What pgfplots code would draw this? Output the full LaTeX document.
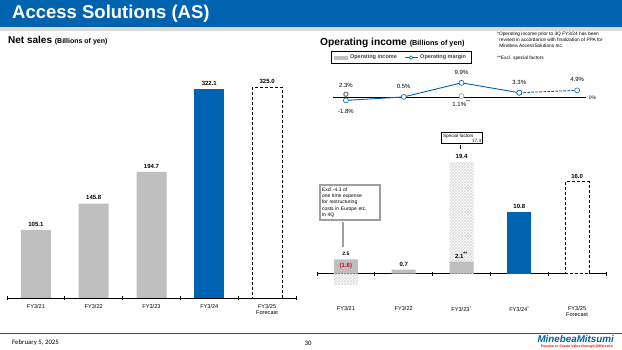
\documentclass[border=0pt]{standalone}
\usepackage{pgfplots}
\pgfplotsset{compat=1.18}
\usepackage{fontspec}
\setmainfont{Liberation Sans}
\newfontfamily\calibri{Carlito}
\usetikzlibrary{patterns}
\definecolor{msblue}{RGB}{0,98,172}
\definecolor{barblue}{RGB}{0,99,177}
\definecolor{bargray}{RGB}{191,191,191}
\definecolor{hdr}{RGB}{0,99,176}
\definecolor{strip}{RGB}{217,217,217}
\definecolor{negred}{RGB}{230,0,40}
\newcommand{\fs}[1]{\fontsize{#1}{#1}\selectfont}
\begin{document}
\begin{tikzpicture}
\path[use as bounding box] (0pt,0pt) rectangle (622pt,350pt);
\fill[white] (0pt,0pt) rectangle (622pt,350pt);
\fill[hdr] (0pt,323pt) rectangle (622pt,350pt);
\fill[strip] (0pt,319pt) rectangle (622pt,323pt);
\node[anchor=west, text=white, font=\fs{18.5}\bfseries, inner sep=0pt] at (12pt,336.5pt) {Access Solutions (AS)};
\node[anchor=base west, inner sep=0pt] at (8pt,306.5pt) {\fs{10}\bfseries Net sales \fs{7}(Billions of yen)};
\node[anchor=base west, inner sep=0pt] at (320pt,304.5pt) {\fs{10.2}\bfseries Operating income \fs{7.3}(Billions of yen)};
\node[anchor=north west, align=left, inner sep=0pt, font=\fontsize{4.8}{6}\selectfont] at (497pt,318pt) {*Operating income prior to 3Q FY3/24 has been\\\ \,revised in accordance with finalization of PPA for\\\ \,Minebea AccessSolutions Inc.};
\node[anchor=west, inner sep=0pt, font=\fs{4.8}] at (497pt,292pt) {**Excl. special factors};
% footer
\draw[msblue, line width=1pt] (0pt,16pt) -- (622pt,16pt);
\node[anchor=west, inner sep=0pt, font=\calibri\fs{6.8}] at (12pt,7pt) {February 5, 2025};
\node[inner sep=0pt, font=\calibri\fs{6.8}] at (308pt,7pt) {30};
\node[anchor=east, inner sep=0pt, text=msblue, font=\fs{9.8}\bfseries\itshape] at (614pt,10.5pt) {MinebeaMitsumi};
\node[anchor=east, inner sep=0pt, text=red, font=\fs{3.5}\bfseries] at (613pt,3pt) {Passion to Create Value through Difference};

% ---------------- Net sales
\begin{axis}[at={(7pt,52pt)}, anchor=south west,
  x=57.8pt, y=0.648pt, xmin=-0.5, xmax=4.5, ymin=0, ymax=340,
  axis x line*=bottom, axis y line=none,
  axis line style={black, line width=0.8pt},
  ybar, bar width=30pt, clip=false,
  xtick={0,...,4},
  xticklabels={FY3/21,FY3/22,FY3/23,FY3/24,{FY3/25\\Forecast}},
  xticklabel style={font=\fontsize{5.6}{6}\selectfont, align=center, text=black, yshift=-2.5pt},
  major tick length=0pt,
  extra x ticks={-0.5,0.5,1.5,2.5,3.5,4.5},
  extra x tick labels={},
  extra x tick style={major tick length=4pt, tick align=center, tick style={black, line width=0.8pt}},
  point meta=explicit symbolic,
  nodes near coords,
  nodes near coords style={font=\fs{6}\bfseries, text=black},
]
\addplot[fill=bargray, draw=none, bar shift=0pt] coordinates {(0,105.1)[105.1] (1,145.8)[145.8] (2,194.7)[194.7]};
\addplot[fill=barblue, draw=none, bar shift=0pt] coordinates {(3,322.1)[322.1]};
\addplot[fill=white, draw=black, dash pattern=on 3pt off 2pt, line width=0.8pt, bar shift=0pt] coordinates {(4,325.0)[325.0]};
\end{axis}

% ---------------- Operating income bars
\begin{axis}[at={(317pt,59.1pt)}, anchor=south west,
  x=57.8pt, y=5.74pt, xmin=-0.5, xmax=4.5, ymin=-3, ymax=22,
  axis x line=middle, axis y line=none,
  axis line style={-, black, line width=0.8pt},
  hide obscured x ticks=false,
  ybar, bar width=24pt, clip=false,
  xtick={0,...,4},
  xticklabels={FY3/21,FY3/22,FY3/23\textsuperscript{*},FY3/24\textsuperscript{*},{FY3/25\\Forecast}},
  xticklabel style={font=\fontsize{5.6}{6}\selectfont, align=center, text=black, yshift=-29.5pt},
  major tick length=0pt,
  extra x ticks={-0.5,0.5,1.5,2.5,3.5,4.5},
  extra x tick labels={},
  extra x tick style={major tick length=4pt, tick align=center, tick style={black, line width=0.8pt}},
  point meta=explicit symbolic,
  nodes near coords,
  nodes near coords style={font=\fs{6}\bfseries, text=black},
]
\addplot[pattern=crosshatch, pattern color=gray!28, draw=none, bar shift=0pt,
  nodes near coords style={text=negred, yshift=12pt}] coordinates {(0,-1.8)[(1.8)]};
\addplot[pattern=crosshatch, pattern color=gray!28, draw=none, bar shift=0pt] coordinates {(2,19.4)[19.4]};
\addplot[fill=bargray, draw=none, bar shift=0pt] coordinates {(0,2.5)[{\fs{5}2.5}] (1,0.7)[0.7] (2,2.1)[{2.1\textsuperscript{**}}]};
\addplot[fill=barblue, draw=none, bar shift=0pt] coordinates {(3,10.8)[10.8]};
\addplot[fill=white, draw=black, dash pattern=on 3pt off 2pt, line width=0.8pt, bar shift=0pt] coordinates {(4,16.0)[16.0]};
\node[draw=black, line width=0.7pt, fill=white, inner xsep=1.5pt, inner ysep=1.2pt, font=\fontsize{4.6}{5.3}\selectfont, align=left, text width=38pt] at (axis cs:2.01,23.6) {Special factors\\\hfill 17.3};
\draw[black, line width=0.7pt] (axis cs:1.974,22.45) -- (axis cs:1.974,21.7);
\node[draw=gray!75, line width=1.3pt, fill=white, inner xsep=2pt, inner ysep=2.5pt, font=\fontsize{5}{6.3}\selectfont, align=left, text width=56pt] at (axis cs:0.071,12.4) {Excl.-4.3 of\\one time expense\\for restructuring\\costs in Europe etc.\\in 4Q};
\draw[gray!75, line width=1.3pt] (axis cs:-0.05,8.95) -- (axis cs:-0.05,4.65);
\end{axis}

% ---------------- Operating margin
\begin{axis}[at={(317pt,246.3pt)}, anchor=south west,
  x=57.8pt, y=1.5pt, xmin=-0.5, xmax=4.5, ymin=-4, ymax=12,
  hide axis, clip=false,
  point meta=explicit symbolic,
  nodes near coords style={font=\fs{6}, text=black},
  legend style={at={(0.048,2.196)}, anchor=north west, draw=black, line width=0.8pt,
    font=\fs{5.5}\bfseries, text=black!75, inner xsep=3pt, inner ysep=1.5pt,
    /tikz/every even column/.append style={column sep=5pt}, cells={anchor=west}},
  legend columns=2,
]
\addlegendimage{legend image code/.code={\fill[bargray] (0pt,-1.5pt) rectangle (13pt,1.5pt);}}
\addlegendentry{Operating income}
\addlegendimage{legend image code/.code={\draw[msblue, line width=1.4pt] (0pt,0pt) -- (13pt,0pt); \draw[msblue, fill=white, line width=0.6pt] (6.5pt,0pt) circle (1.8pt);}}
\addlegendentry{Operating margin}
\addplot[black, line width=0.8pt, forget plot] coordinates {(-0.22,0) (4.15,0)};
\addplot[msblue, line width=0.9pt, mark=*, mark size=2.5pt, mark options={solid, fill=white, draw=msblue, line width=0.6pt}, forget plot] coordinates {(0,-1.8) (1,0.5) (2,9.9) (3,3.3)};
\addplot[msblue, line width=0.9pt, dash pattern=on 2.5pt off 1.5pt, mark=*, mark size=2.5pt, mark options={solid, fill=white, draw=msblue, line width=0.6pt}, forget plot] coordinates {(3,3.3) (4,4.9)};
\addplot[only marks, mark=*, mark size=2.5pt, mark options={fill=white, draw=gray!80, line width=0.6pt}, forget plot] coordinates {(2,1.1)};
\addplot[only marks, mark=*, mark size=2.1pt, mark options={fill=white, draw=gray, line width=1.2pt}, forget plot] coordinates {(0,2.3)};
\addplot[draw=none, forget plot, nodes near coords, nodes near coords style={anchor=south, yshift=5pt}] coordinates {(1,0.5)[0.5\%] (2,9.9)[9.9\%] (3,3.3)[3.3\%] (4,4.9)[4.9\%]};
\addplot[draw=none, forget plot, nodes near coords, nodes near coords style={anchor=south, yshift=3pt}] coordinates {(0,2.3)[2.3\%]};
\addplot[draw=none, forget plot, nodes near coords, nodes near coords style={anchor=north, yshift=-5pt}] coordinates {(0,-1.8)[-1.8\%]};
\addplot[draw=none, forget plot, nodes near coords, nodes near coords style={anchor=north, yshift=-0.5pt}] coordinates {(2,1.1)[{1.1\%\textsuperscript{**}}]};
\node[anchor=west, inner sep=0pt, font=\fs{5}] at (axis cs:4.2,0) {0\%};
\end{axis}
\end{tikzpicture}
\end{document}
